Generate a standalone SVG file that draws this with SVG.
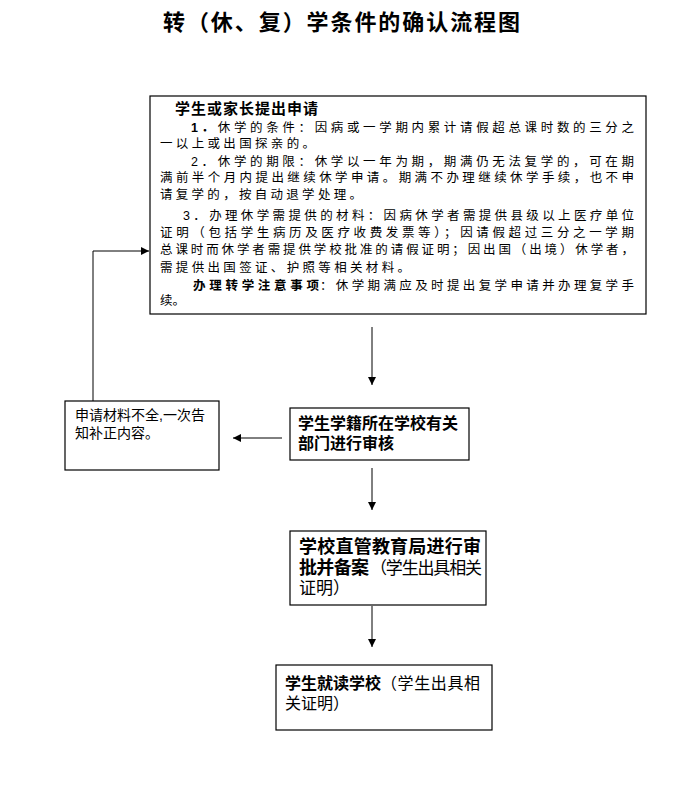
<svg xmlns="http://www.w3.org/2000/svg" width="676" height="806" viewBox="0 0 676 806">
<style>
text{font-family:"Liberation Sans","Noto Sans CJK SC",sans-serif;fill:#000}
.box{fill:#fff;stroke:#000;stroke-width:1.2}
.b{font-weight:bold}
.line{stroke:#000;stroke-width:1;fill:none}
</style>
<defs>
<marker id="ah" viewBox="0 0 10 10" refX="10" refY="5" markerWidth="8" markerHeight="8" markerUnits="userSpaceOnUse" orient="auto">
<path d="M0,0 L10,5 L0,10 z" fill="#000"/>
</marker>
</defs>
<rect width="676" height="806" fill="#fff"/>
<text x="163" y="30" class="b" font-size="22" textLength="357" lengthAdjust="spacing">转（休、复）学条件的确认流程图</text>

<g id="apply">
<rect class="box" x="150" y="96" width="496" height="218"/>
<text font-size="12.5"><tspan x="175" y="114" class="b" font-size="15" textLength="143" lengthAdjust="spacing">学生或家长提出申请</tspan><tspan x="191" y="132" textLength="443" lengthAdjust="spacing"><tspan class="b">1．</tspan>休学的条件：因病或一学期内累计请假超总课时数的三分之</tspan><tspan x="160" y="148" textLength="155" lengthAdjust="spacing">一以上或出国探亲的。</tspan><tspan x="191" y="166" textLength="443" lengthAdjust="spacing">2．休学的期限：休学以一年为期，期满仍无法复学的，可在期</tspan><tspan x="160" y="182" textLength="474" lengthAdjust="spacing">满前半个月内提出继续休学申请。期满不办理继续休学手续，也不申</tspan><tspan x="160" y="199" textLength="202" lengthAdjust="spacing">请复学的，按自动退学处理。</tspan><tspan x="183" y="220" textLength="451" lengthAdjust="spacing">3．办理休学需提供的材料：因病休学者需提供县级以上医疗单位</tspan><tspan x="160" y="237" textLength="474" lengthAdjust="spacing">证明（包括学生病历及医疗收费发票等）；因请假超过三分之一学期</tspan><tspan x="160" y="254" textLength="474" lengthAdjust="spacing">总课时而休学者需提供学校批准的请假证明；因出国（出境）休学者，</tspan><tspan x="160" y="272" textLength="250" lengthAdjust="spacing">需提供出国签证、护照等相关材料。</tspan><tspan x="193" y="290" class="b" textLength="126" lengthAdjust="spacing">办理转学注意事项</tspan><tspan x="320" y="290" textLength="314" lengthAdjust="spacing">：休学期满应及时提出复学申请并办理复学手</tspan><tspan x="160" y="305">续。</tspan></text>
</g>

<g id="notify">
<rect class="box" x="65" y="401" width="154" height="69"/>
<text font-size="14"><tspan x="75" y="420">申请材料不全,一次告</tspan><tspan x="75" y="438">知补正内容。</tspan></text>
</g>

<g id="review">
<rect class="box" x="290" y="408" width="179" height="52"/>
<text class="b" font-size="16"><tspan x="298" y="429">学生学籍所在学校有关</tspan><tspan x="298" y="449">部门进行审核</tspan></text>
</g>

<g id="approve">
<rect class="box" x="290" y="531" width="196" height="74"/>
<text font-size="18"><tspan x="299" y="553" class="b" textLength="182" lengthAdjust="spacing">学校直管教育局进行审</tspan><tspan x="299" y="574" class="b" textLength="70" lengthAdjust="spacing">批并备案</tspan><tspan x="370" y="574" font-size="17" textLength="112" lengthAdjust="spacing">（学生出具相关</tspan><tspan x="299" y="594" font-size="17">证明）</tspan></text>
</g>

<g id="enroll">
<rect class="box" x="276" y="665" width="216" height="65"/>
<text font-size="16"><tspan x="285" y="689" class="b">学生就读学校</tspan><tspan x="381" y="689" textLength="99" lengthAdjust="spacing">（学生出具相</tspan><tspan x="285" y="709">关证明）</tspan></text>
</g>

<g id="connectors">
<line class="line" x1="372" y1="327" x2="372" y2="385" marker-end="url(#ah)"/>
<line class="line" x1="282" y1="438" x2="233" y2="438" marker-end="url(#ah)"/>
<line class="line" x1="372" y1="468" x2="372" y2="510" marker-end="url(#ah)"/>
<line class="line" x1="372" y1="606" x2="372" y2="647" marker-end="url(#ah)"/>
<polyline class="line" points="93,401 93,251 149,251" marker-end="url(#ah)"/>
</g>
</svg>
